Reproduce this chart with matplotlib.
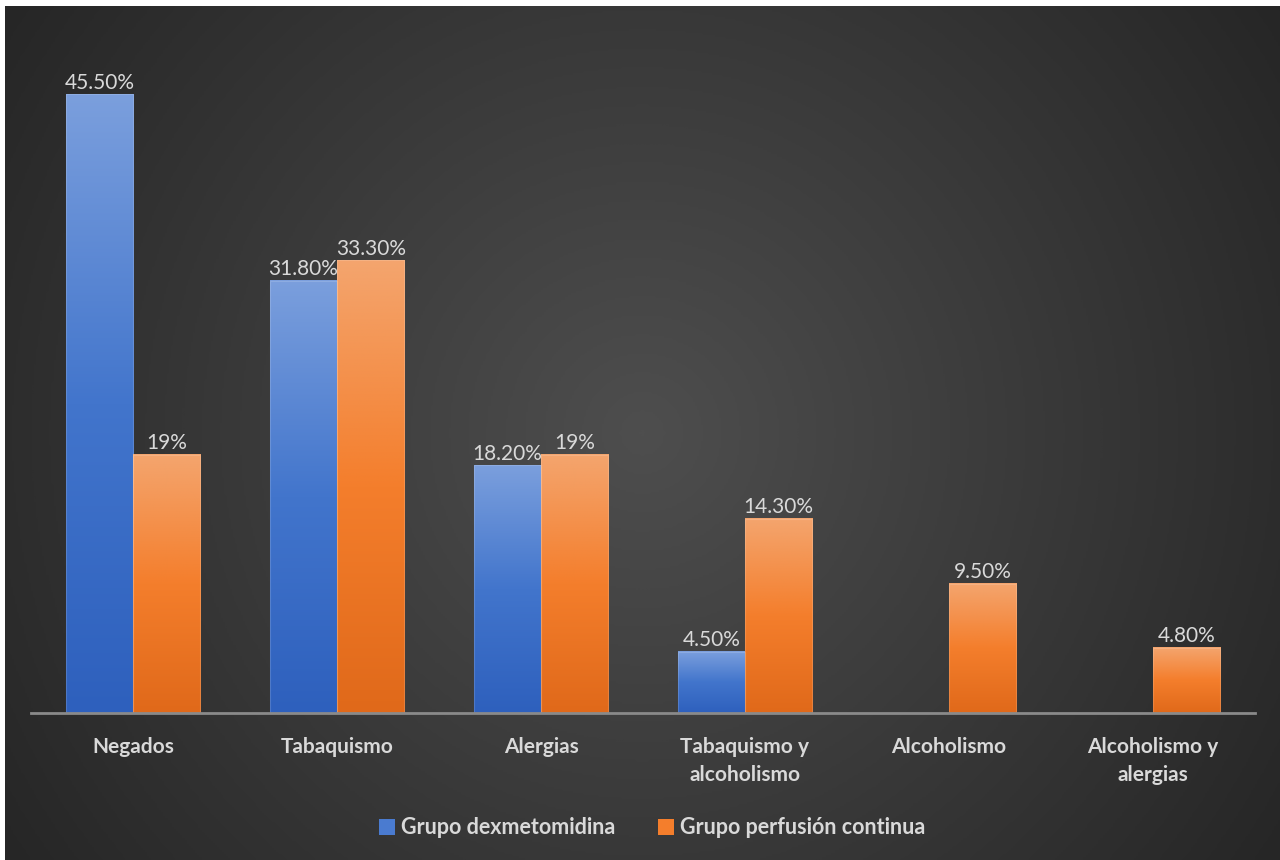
import numpy as np
import matplotlib.pyplot as plt
from matplotlib.colors import LinearSegmentedColormap
from matplotlib.patches import Patch

categories = ['Negados', 'Tabaquismo', 'Alergias', 'Tabaquismo y\nalcoholismo',
              'Alcoholismo', 'Alcoholismo y\nalergias']
dexmet = [45.5, 31.8, 18.2, 4.5, 0, 0]
perfusion = [19, 33.3, 19, 14.3, 9.5, 4.8]
dexmet_lbl = ['45.50%', '31.80%', '18.20%', '4.50%', '', '']
perf_lbl = ['19%', '33.30%', '19%', '14.30%', '9.50%', '4.80%']
series = ['Grupo dexmetomidina', 'Grupo perfusión continua']

plt.rcParams['font.family'] = ['Lato', 'DejaVu Sans']
txt = '#d9d9d9'

fig = plt.figure(figsize=(12.8, 8.6), dpi=100)
fig.patch.set_facecolor('white')

# dark radial background, white slivers top/left like the screenshot
bg = fig.add_axes([5/1280, 0, 1 - 5/1280, 1 - 6/860])
bg.set_axis_off()
yy, xx = np.mgrid[0:1:400j, 0:1:600j]
rr = np.sqrt(((xx - 0.5) * 1.5) ** 2 + (yy - 0.5) ** 2)
rr = np.clip(rr / rr.max(), 0, 1)
bgmap = LinearSegmentedColormap.from_list('bg', ['#4e4e4e', '#3a3a3a', '#262626'])
bg.imshow(rr, cmap=bgmap, aspect='auto', extent=[0, 1, 0, 1], interpolation='bilinear')
bg.set_xlim(0, 1); bg.set_ylim(0, 1)

ax = fig.add_axes([31/1280, 147/860, 1224/1280, 680/860])
ax.patch.set_alpha(0)
x = np.arange(len(categories))
w = 0.33

blue = LinearSegmentedColormap.from_list('b', ['#2e60bd', '#4275cc', '#7b9fdd'])
orng = LinearSegmentedColormap.from_list('o', ['#e0691a', '#f47e2c', '#f4a56e'])

def grad_bars(bars, cmap):
    grad = np.linspace(0, 1, 256).reshape(-1, 1)
    for b in bars:
        h = b.get_height()
        if h <= 0: continue
        x0 = b.get_x(); x1 = x0 + b.get_width()
        ax.imshow(grad, cmap=cmap, origin='lower', aspect='auto',
                  extent=[x0, x1, 0, h], zorder=2)

b1 = ax.bar(x - w/2, dexmet, w, color='none', edgecolor=(1, 1, 1, 0.15), lw=0.8, zorder=3)
b2 = ax.bar(x + w/2, perfusion, w, color='none', edgecolor=(1, 1, 1, 0.15), lw=0.8, zorder=3)
grad_bars(b1, blue)
grad_bars(b2, orng)

for bars, lbls in ((b1, dexmet_lbl), (b2, perf_lbl)):
    for b, s in zip(bars, lbls):
        if not s: continue
        ax.annotate(s, (b.get_x() + b.get_width()/2, b.get_height()),
                    xytext=(0, 1), textcoords='offset points', ha='center', va='bottom',
                    color=txt, fontsize=15, zorder=4)

ax.set_xlim(-0.5, len(categories) - 0.5)
ax.set_ylim(0, 50)
ax.set_xticks(x)
ax.set_xticklabels(categories, color=txt, fontsize=15, fontweight='bold', linespacing=1.55)
ax.tick_params(axis='x', length=0, pad=17)
ax.set_yticks([])
for sp in ['top', 'right', 'left']:
    ax.spines[sp].set_visible(False)
ax.spines['bottom'].set_color('#8a8a8a')
ax.spines['bottom'].set_linewidth(2)
ax.spines['bottom'].set_zorder(5)

handles = [Patch(facecolor='#4a7bd0', edgecolor='none'),
           Patch(facecolor='#f47e2c', edgecolor='none')]
leg = fig.legend(handles, series, loc='center', bbox_to_anchor=(652/1280, 1 - 828/860),
                 ncol=2, frameon=False, fontsize=15.5, handlelength=0.75, handleheight=0.75,
                 handletextpad=0.25, columnspacing=2.0)
for t in leg.get_texts():
    t.set_color(txt)
    t.set_fontweight('bold')

fig.savefig('out.png', dpi=100, facecolor=fig.get_facecolor())
